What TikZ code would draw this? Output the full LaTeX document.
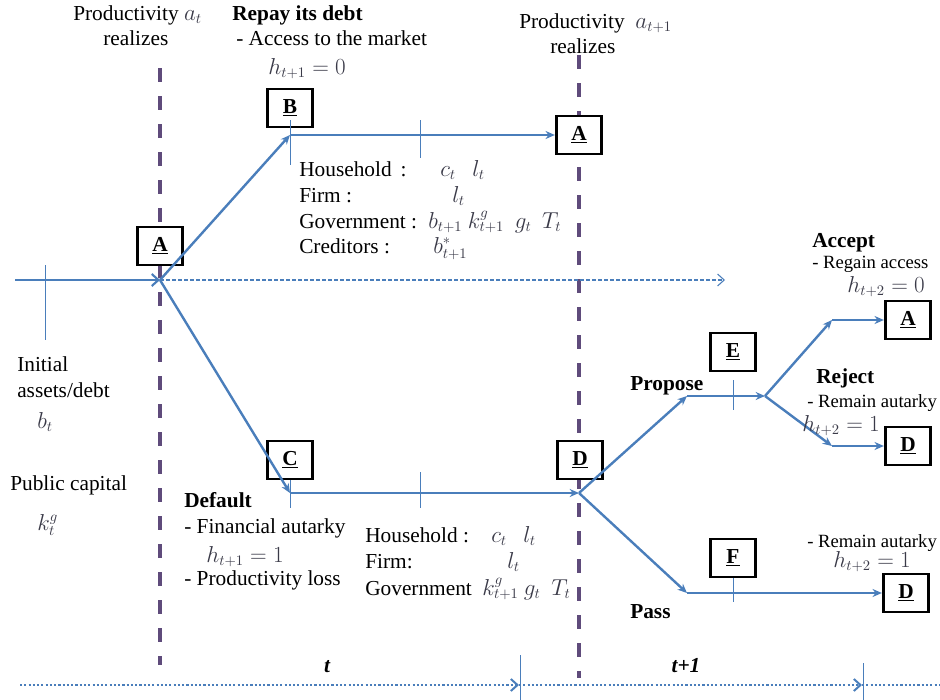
\documentclass[tikz,border=0pt]{standalone}
\usepackage{fontspec}
\setmainfont{Liberation Serif}
\newfontfamily\tnr{Liberation Serif}
\usetikzlibrary{arrows.meta}
\definecolor{lineblue}{HTML}{4A7EBB}
\definecolor{dpurple}{HTML}{5F4B7B}
\definecolor{mathgrey}{HTML}{3A3A48}
\begin{document}
\begin{tikzpicture}[x=0.75pt,y=-0.75pt,
  font=\tnr\fontsize{16}{19}\selectfont,
  box/.style={draw, fill=white, line width=2.2pt, minimum width=34pt, minimum height=28.5pt, inner sep=0pt, font=\tnr\fontsize{16}{19}\selectfont\bfseries},
  flow/.style={draw=lineblue, line width=1.8pt, -{Stealth[length=7pt,width=6pt]}},
  openflow/.style={draw=lineblue, line width=1.8pt, -{Straight Barb[length=5pt,width=9pt,line width=1.6pt]}},
  tickline/.style={draw=lineblue, line width=0.7pt},
  period/.style={draw=dpurple, line width=3pt, dash pattern=on 10.5pt off 10.5pt},
  txt/.style={anchor=base west, inner sep=0pt},
  small/.style={anchor=base west, inner sep=0pt, font=\tnr\fontsize{14}{17}\selectfont},
  mth/.style={anchor=base west, inner sep=0pt, text=mathgrey},
  bld/.style={anchor=base west, inner sep=0pt, font=\tnr\fontsize{16}{19}\selectfont\bfseries},
  timeline/.style={draw=lineblue, line width=1.8pt, dash pattern=on 1.6pt off 1.6pt, -{Straight Barb[length=5pt,width=9pt,line width=1.5pt]}},
  guide/.style={draw=lineblue, line width=0.8pt, dash pattern=on 3pt off 1.5pt, -{Straight Barb[length=5pt,width=9pt,line width=0.8pt]}}
]
\useasboundingbox (0,0) rectangle (940,700);

% period lines
\coordinate (p1top) at (160,68);
\coordinate (p1bot) at (160,665);
\coordinate (p2top) at (579,55);
\coordinate (p2bot) at (579,678);
\draw[period] (p1top) -- (p1bot);
\draw[period] (p2top) -- (p2bot);

% boxes
\node[box] (A1) at (160,246) {\underline{A}};
\node[box] (B)  at (290,108) {\underline{B}};
\node[box] (A2) at (579,135) {\underline{A}};
\node[box] (C)  at (290,460) {\underline{C}};
\node[box] (D1) at (580,460) {\underline{D}};
\node[box] (E)  at (733,352) {\underline{E}};
\node[box] (F)  at (733,558) {\underline{F}};
\node[box] (A3) at (908,320) {\underline{A}};
\node[box] (D2) at (908,446) {\underline{D}};
\node[box] (D3) at (906,593) {\underline{D}};

% junction coordinates
\coordinate (start) at (15,280);
\coordinate (jA) at (160,280);
\coordinate (dashend) at (725,280);
\coordinate (jB) at (290,135);
\coordinate (jC) at (290,493);
\coordinate (jD) at (579,493);
\coordinate (jE) at (687,396);
\coordinate (jR) at (765,396);
\coordinate (jA3) at (832,320);
\coordinate (jD2) at (832,446);
\coordinate (jF) at (687,593);

% ticks
\coordinate (t0a) at (45,265); \coordinate (t0b) at (45,340);
\coordinate (t1a) at (290,120); \coordinate (t1b) at (290,165);
\coordinate (t2a) at (420,120); \coordinate (t2b) at (420,158);
\coordinate (t3a) at (290,480); \coordinate (t3b) at (290,508);
\coordinate (t4a) at (420,472); \coordinate (t4b) at (420,508);
\coordinate (t5a) at (733,380); \coordinate (t5b) at (733,410);
\coordinate (t6a) at (733,578); \coordinate (t6b) at (733,602);
\foreach \a/\b in {t0a/t0b,t1a/t1b,t2a/t2b,t3a/t3b,t4a/t4b,t5a/t5b,t6a/t6b}
  \draw[tickline] (\a) -- (\b);

% flows
\draw[guide] (jA) -- (dashend);
\draw[openflow] (start) -- (jA);
\draw[flow] (jA) -- (jB);
\draw[flow] (jB) -- (A2);
\draw[flow] (jA) -- (jC);
\draw[flow] (jC) -- (jD);
\draw[flow] (jD) -- (jE);
\draw[flow] (jE) -- (jR);
\draw[flow] (jR) -- (jA3);
\draw[flow] (jA3) -- (A3);
\draw[flow] (jR) -- (jD2);
\draw[flow] (jD2) -- (D2);
\draw[flow] (jD) -- (jF);
\draw[flow] (jF) -- (D3);

% timeline
\coordinate (tl0) at (20,685);
\coordinate (tl1) at (519,685);
\coordinate (tl2) at (862,685);
\coordinate (tl3) at (940,685);
\coordinate (tk1a) at (520,655); \coordinate (tk1b) at (520,700);
\coordinate (tk2a) at (863,663); \coordinate (tk2b) at (863,700);
\draw[timeline] (tl0) -- (tl1);
\draw[timeline] (tl1) -- (tl2);
\draw[draw=lineblue, line width=1.8pt, dash pattern=on 1.6pt off 1.6pt] (tl2) -- (tl3);
\draw[tickline] (tk1a) -- (tk1b);
\draw[tickline] (tk2a) -- (tk2b);
\node[anchor=base, inner sep=0pt, font=\tnr\fontsize{16}{19}\selectfont\bfseries\itshape] (lt) at (327,672) {t};
\node[anchor=base, inner sep=0pt, font=\tnr\fontsize{16}{19}\selectfont\bfseries\itshape] (lt1) at (686,672) {t+1};

% top texts
\node[txt] (prod1) at (73,20) {Productivity \textcolor{mathgrey}{$a_t$}};
\node[txt] (real1) at (103,45) {realizes};
\node[bld] (repay) at (232,20) {Repay its debt};
\node[txt] (access) at (236,45) {- Access to the market};
\node[mth] (h1) at (268,74) {$h_{t+1}=0$};
\node[txt] (prod2) at (519,28) {Productivity \ \textcolor{mathgrey}{$a_{t+1}$}};
\node[txt] (real2) at (550,53) {realizes};

% household block 1
\node[txt] (hh1) at (299,176) {Household \,:};
\node[txt] (fi1) at (299,202) {Firm :};
\node[txt] (go1) at (299,228) {Government :};
\node[txt] (cr1) at (299,253) {Creditors :};
\node[mth] (m1) at (440,176) {$c_t$};
\node[mth] (m2) at (472,176) {$l_t$};
\node[mth] (m3) at (452,202) {$l_t$};
\node[mth] (m4) at (428,228) {$b_{t+1}\ k^g_{t+1}\ \ g_t\ \ T_t$};
\node[mth] (m5) at (433,253) {$b^*_{t+1}$};

% left texts
\node[txt] (init) at (17,371) {Initial};
\node[txt] (assets) at (17,397) {assets/debt};
\node[mth] (bt) at (37,428) {$b_t$};
\node[txt] (pubcap) at (10,490) {Public capital};
\node[mth] (kg) at (37,530) {$k^g_t$};

% default
\node[bld] (default) at (184,507) {Default};
\node[txt] (finaut) at (184,533) {- Financial autarky};
\node[mth] (h2) at (206,562) {$h_{t+1}=1$};
\node[txt] (prodloss) at (184,585) {- Productivity loss};

% household block 2
\node[txt] (hh2) at (365,542) {Household :};
\node[txt] (fi2) at (365,568) {Firm:};
\node[txt] (go2) at (365,595) {Government};
\node[mth] (n1) at (491,542) {$c_t$};
\node[mth] (n2) at (523,542) {$l_t$};
\node[mth] (n3) at (507,568) {$l_t$};
\node[mth] (n4) at (482,595) {$k^g_{t+1}\ g_t\ \ T_t$};

% right texts
\node[bld] (propose) at (630,390) {Propose};
\node[bld] (pass) at (630,618) {Pass};
\node[bld] (accept) at (812,247) {Accept};
\node[small] (regain) at (812,268) {- Regain access};
\node[mth] (h3) at (847,292) {$h_{t+2}=0$};
\node[bld] (reject) at (816,383) {Reject};
\node[small] (remain1) at (807,407) {- Remain autarky};
\node[mth] (h4) at (802,431) {$h_{t+2}=1$};
\node[small] (remain2) at (807,547) {- Remain autarky};
\node[mth] (h5) at (833,567) {$h_{t+2}=1$};
\end{tikzpicture}
\end{document}
